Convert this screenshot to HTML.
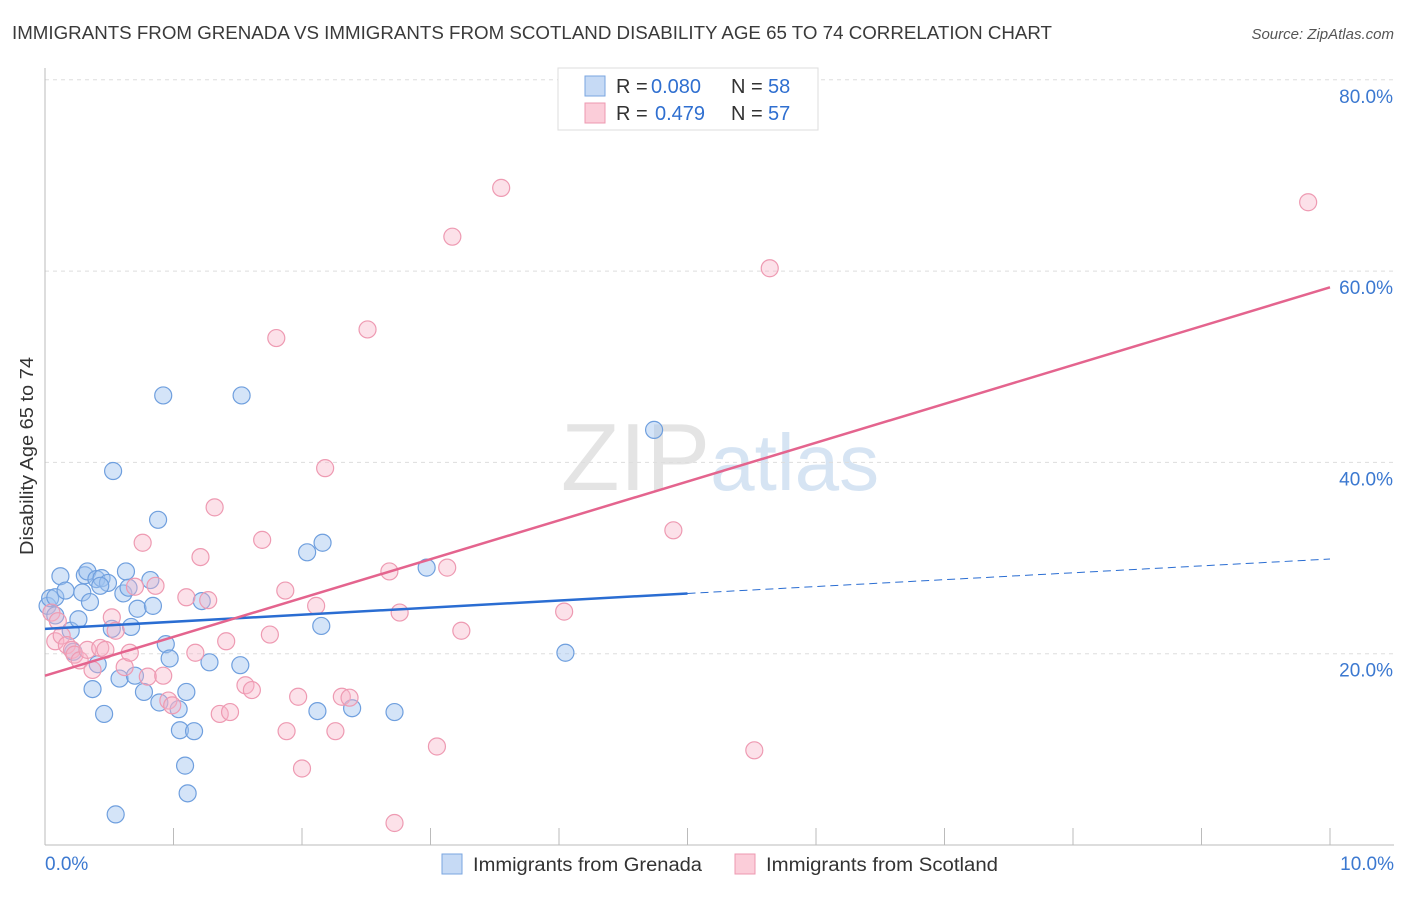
<!DOCTYPE html>
<html><head><meta charset="utf-8"><style>
body{margin:0;background:#fff;font-family:"Liberation Sans",sans-serif}
svg text{font-family:"Liberation Sans",sans-serif}
</style></head><body>
<svg width="1406" height="892" xmlns="http://www.w3.org/2000/svg">
<text x="12" y="39" font-size="18" fill="#3a3a3a" textLength="1040" lengthAdjust="spacingAndGlyphs">IMMIGRANTS FROM GRENADA VS IMMIGRANTS FROM SCOTLAND DISABILITY AGE 65 TO 74 CORRELATION CHART</text>
<text x="1394" y="39" font-size="15" font-style="italic" fill="#555" text-anchor="end">Source: ZipAtlas.com</text>
<text x="720" y="490" font-size="96" text-anchor="middle" fill="#e4e4e4" font-family="Liberation Serif">ZIP<tspan fill="#d6e4f3" font-family="Liberation Sans" font-size="80">atlas</tspan></text>
<g id="grid"></g>
<g id="axes"></g>
<g id="pts"></g>
<g id="lines"></g>
<text transform="translate(33,456) rotate(-90)" font-size="18" fill="#333" text-anchor="middle" textLength="198" lengthAdjust="spacingAndGlyphs">Disability Age 65 to 74</text>
<g>
<rect x="558" y="68" width="260" height="62" fill="#fff" stroke="#ddd"/>
<rect x="585" y="76" width="20" height="20" fill="#c6daf5" stroke="#7aa6e0"/>
<rect x="585" y="103" width="20" height="20" fill="#fbcdd9" stroke="#ee98b0"/>
<text x="616" y="93" font-size="20" fill="#333">R =</text>
<text x="651" y="93" font-size="20" fill="#2f6fd0">0.080</text>
<text x="731" y="93" font-size="20" fill="#333">N =</text>
<text x="768" y="93" font-size="20" fill="#2f6fd0">58</text>
<text x="616" y="120" font-size="20" fill="#333">R =</text>
<text x="655" y="120" font-size="20" fill="#2f6fd0">0.479</text>
<text x="731" y="120" font-size="20" fill="#333">N =</text>
<text x="768" y="120" font-size="20" fill="#2f6fd0">57</text>
</g>
<g>
<rect x="442" y="854" width="20" height="20" fill="#c6daf5" stroke="#7aa6e0"/>
<text x="473" y="871" font-size="19" fill="#333" textLength="229" lengthAdjust="spacingAndGlyphs">Immigrants from Grenada</text>
<rect x="735" y="854" width="20" height="20" fill="#fbcdd9" stroke="#ee98b0"/>
<text x="766" y="871" font-size="19" fill="#333" textLength="232" lengthAdjust="spacingAndGlyphs">Immigrants from Scotland</text>
</g>
</svg>
<script>
const xTicks=[0,1,2,3,4,5,6,7,8,9,10];
const yTicks=[20,40,60,80];
const blueX=[0.02,0.04,0.08,0.12,0.16,0.2,0.22,0.26,0.29,0.31,0.33,0.35,0.37,0.4,0.41,0.44,0.46,0.49,0.53,0.52,0.55,0.58,0.61,0.63,0.65,0.67,0.7,0.72,0.77,0.82,0.84,0.88,0.89,0.92,0.94,0.97,1.04,1.05,1.1,1.16,1.09,1.11,1.22,1.28,1.52,1.53,2.04,2.12,2.15,2.16,2.39,2.72,2.97,4.05,4.74,0.08,0.43];
const blueY=[25.0,25.8,25.9,28.1,26.6,22.4,20.2,23.6,26.4,28.2,28.6,25.4,16.3,27.8,18.9,27.9,13.7,27.4,39.1,22.6,3.2,17.4,26.3,28.6,26.9,22.8,17.7,24.7,16.0,27.7,25.0,34.0,14.9,47.0,21.0,19.5,14.2,12.0,16.0,11.9,8.3,5.4,25.5,19.1,18.8,47.0,30.6,14.0,22.9,31.6,14.3,13.9,29.0,20.1,43.4,24.0,27.1];
const pinkX=[0.05,0.08,0.1,0.13,0.17,0.21,0.23,0.27,0.33,0.37,0.43,0.47,0.52,0.55,0.62,0.66,0.7,0.76,0.8,0.86,0.92,0.96,0.99,1.1,1.17,1.21,1.27,1.32,1.36,1.41,1.44,1.56,1.61,1.69,1.75,1.8,1.87,1.88,1.97,2.0,2.11,2.18,2.26,2.31,2.37,2.51,2.68,2.72,2.76,3.05,3.13,3.17,3.24,3.55,4.04,4.89,5.52,5.64,9.83];
const pinkY=[24.3,21.3,23.4,21.9,20.9,20.4,19.9,19.3,20.4,18.3,20.6,20.4,23.8,22.4,18.6,20.1,27.0,31.6,17.6,27.1,17.7,15.1,14.6,25.9,20.1,30.1,25.6,35.3,13.7,21.3,13.9,16.7,16.2,31.9,22.0,53.0,26.6,11.9,15.5,8.0,25.0,39.4,11.9,15.5,15.4,53.9,28.6,2.3,24.3,10.3,29.0,63.6,22.4,68.7,24.4,32.9,9.9,60.3,67.2];
const blueFit=[22.6,26.3,29.9];const blueFitX=[0,5,10];
const pinkFit=[17.7,58.3];const pinkFitX=[0,10];
const X=v=>45+v*128.5, Y=v=>845-v*9.565;
const NS='http://www.w3.org/2000/svg';
function mk(p,t,a){const e=document.createElementNS(NS,t);for(const k in a)e.setAttribute(k,a[k]);document.getElementById(p).appendChild(e);return e;}
yTicks.forEach(t=>{
 const l=mk('grid','line',{x1:45,x2:1394,y1:Y(t),y2:Y(t),stroke:'#ddd','stroke-dasharray':'4,4'});
 
 
 const tx=mk('axes','text',{x:1393,y:Y(t)+23,'font-size':19,fill:'#3b78d0','text-anchor':'end'});
 tx.textContent=t.toFixed(1)+'%';
 
 
});
const ax=mk('axes','line',{x1:45,x2:45,y1:68,y2:845,stroke:'#bbb'});


const bx=mk('axes','line',{x1:45,x2:1394,y1:845,y2:845,stroke:'#bbb'});


xTicks.forEach(t=>{
 const l=mk('axes','line',{x1:X(t),x2:X(t),y1:828,y2:845,stroke:'#bbb'});
 
 
});
[[0,'0.0%','start',45],[10,'10.0%','end',1394]].forEach(a=>{
 const tx=mk('axes','text',{x:a[3],y:870,'font-size':19,fill:'#3b78d0','text-anchor':a[2]});
 tx.textContent=a[1];
 
 
});
blueX.forEach((v,i)=>{
 const c=mk('pts','circle',{cx:X(v),cy:Y(blueY[i]),r:8.5,fill:'rgba(160,196,240,0.45)',stroke:'#6f9fde','stroke-width':1.2});
 
 
});
pinkX.forEach((v,i)=>{
 const c=mk('pts','circle',{cx:X(v),cy:Y(pinkY[i]),r:8.5,fill:'rgba(248,180,200,0.4)',stroke:'#ee9ab2','stroke-width':1.2});
 
 
});
let l1=mk('lines','line',{x1:X(blueFitX[0]),y1:Y(blueFit[0]),x2:X(blueFitX[1]),y2:Y(blueFit[1]),stroke:'#2a6dd2','stroke-width':2.5});


let l2=mk('lines','line',{x1:X(blueFitX[1]),y1:Y(blueFit[1]),x2:X(blueFitX[2]),y2:Y(blueFit[2]),stroke:'#2a6dd2','stroke-width':1,'stroke-dasharray':'8,5'});


let l3=mk('lines','line',{x1:X(pinkFitX[0]),y1:Y(pinkFit[0]),x2:X(pinkFitX[1]),y2:Y(pinkFit[1]),stroke:'#e4648e','stroke-width':2.5});


</script>
</body></html>
